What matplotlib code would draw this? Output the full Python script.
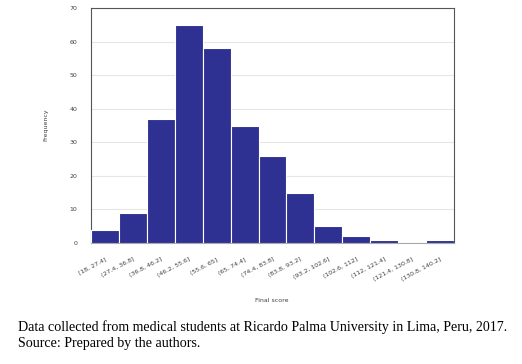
import matplotlib
matplotlib.use("Agg")
import matplotlib.pyplot as plt
import numpy as np

bins = ["[18, 27.4]", "(27.4, 36.8]", "(36.8, 46.2]", "(46.2, 55.6]", "(55.6, 65]",
        "(65, 74.4]", "(74.4, 83.8]", "(83.8, 93.2]", "(93.2, 102.6]", "(102.6, 112]",
        "(112, 121.4]", "(121.4, 130.8]", "(130.8, 140.2]"]
freq = [4, 9, 37, 65, 58, 35, 26, 15, 5, 2, 1, 0, 1]
yticks = [0, 10, 20, 30, 40, 50, 60, 70]

W, H = 522, 364
fig = plt.figure(figsize=(W/100, H/100), dpi=100)
ax = fig.add_axes([91/W, 1-243/H, (454-91)/W, (243-8)/H])

x = np.arange(len(bins))
ax.bar(x, freq, width=1.0, color="#2E3192", edgecolor="white", linewidth=0.8, zorder=3)
ax.set_xlim(-0.5, len(bins)-0.5)
ax.set_ylim(0, 70)
ax.set_yticks(yticks)
ax.yaxis.grid(True, color="#e6e6e6", linewidth=0.8, zorder=0)
ax.set_xticks(x)
ax.set_xticklabels(bins, rotation=28, ha="right", rotation_mode="anchor", fontsize=4.5, color="#404040")
ax.tick_params(axis="y", labelsize=4.5, labelcolor="#404040", length=0, pad=10)
ax.tick_params(axis="x", length=0, pad=10)
for s in ax.spines.values():
    s.set_color("#555555")
    s.set_linewidth(0.8)
ax.spines["bottom"].set_color("#aaaaaa")

fig.text(46/W, 1-125/H, "Frequency", rotation=90, ha="center", va="center", fontsize=4.5, color="#404040")
fig.text(272/W, 1-301/H, "Final score", ha="center", va="center", fontsize=4.5, color="#404040")

fig.text(18/W, 1-327/H, "Data collected from medical students at Ricardo Palma University in Lima, Peru, 2017.",
         ha="left", va="center", fontsize=10.1, family="Liberation Serif", color="black")
fig.text(18/W, 1-344/H, "Source: Prepared by the authors.",
         ha="left", va="center", fontsize=10.1, family="Liberation Serif", color="black")

fig.savefig("out.png", dpi=100)
